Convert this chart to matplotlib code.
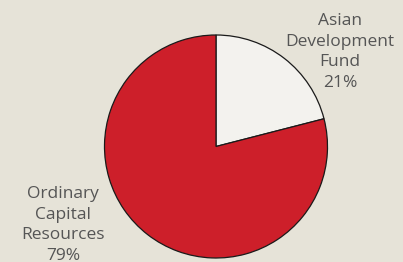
import matplotlib
matplotlib.use("Agg")
import matplotlib.pyplot as plt

labels = ["Asian\nDevelopment\nFund", "Ordinary\nCapital\nResources"]
values = [21, 79]
colors = ["#f3f2ee", "#cd1f2a"]

W, H = 403, 262
fig = plt.figure(figsize=(W / 100, H / 100), dpi=100)
fig.patch.set_facecolor("#e6e3d8")

cx, cy, r = 216, 146.5, 111.5
ax = fig.add_axes([(cx - r) / W, (H - cy - r) / H, 2 * r / W, 2 * r / H])
ax.axis("off")
ax.pie(values, colors=colors, startangle=90, counterclock=False, radius=1,
       wedgeprops=dict(edgecolor="#1a1a1a", linewidth=0.9), frame=False)
ax.set_xlim(-1.0, 1.0)
ax.set_ylim(-1.0, 1.0)

txt = dict(ha="center", va="center", fontsize=12.5, color="#555555",
           family="Open Sans", linespacing=1.37)
fig.text(340 / W, 1 - 52 / H, f"{labels[0]}\n{values[0]}%", **txt)
fig.text(63 / W, 1 - 225 / H, f"{labels[1]}\n{values[1]}%", **txt)

fig.savefig("out.png", dpi=100, facecolor=fig.get_facecolor())
